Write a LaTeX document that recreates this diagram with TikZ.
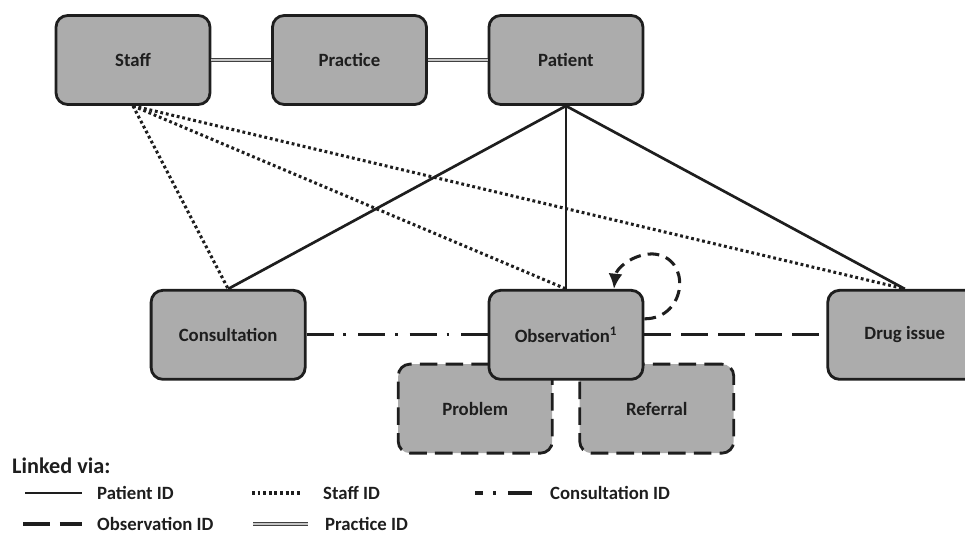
\documentclass[tikz,border=0pt]{standalone}
\usepackage{fontspec}
\setmainfont{Carlito}
\usetikzlibrary{positioning,calc,arrows.meta,backgrounds}

\definecolor{boxgray}{RGB}{172,172,172}
\definecolor{inkgray}{RGB}{30,30,30}

\tikzset{
  tablebox/.style={draw=inkgray, fill=boxgray, line width=2.4pt, rounded corners=10pt,
    minimum width=4.62cm, minimum height=2.67cm, inner sep=0pt,
    font=\fontsize{16}{18}\selectfont\bfseries, text=inkgray},
  subtable/.style={tablebox, dash pattern=on 15pt off 7pt},
  patid/.style={draw=inkgray, line width=2.3pt},
  staffid/.style={draw=inkgray, line width=2.6pt, dash pattern=on 2.4pt off 2.4pt},
  consid/.style={draw=inkgray, line width=2.6pt, dash pattern=on 23pt off 8.5pt on 2.5pt off 10pt},
  consleg/.style={consid, dash phase=16pt},
  obsid/.style={draw=inkgray, line width=2.6pt, dash pattern=on 23pt off 8.5pt},
  pracid/.style={draw=inkgray!85, line width=1.2pt, double=gray!45, double distance=1.6pt},
  legtext/.style={anchor=west, inner sep=0pt, font=\fontsize{16}{18}\selectfont\bfseries, text=inkgray},
}

\begin{document}
\begin{tikzpicture}[x=0.03cm, y=-0.03cm, node distance=1.79cm]
\useasboundingbox (0,0) rectangle (965,536);

% top row
\node[tablebox] (staff) at (133,60) {Staff};
\node[tablebox, right=of staff] (practice) {Practice};
\node[tablebox, right=of practice] (patient) {Patient};

% middle row
\node[tablebox, below=5.49cm of patient] (obs) {Observation\textsuperscript{1}};
\node[tablebox, left=5.43cm of obs] (cons) {Consultation};
\node[tablebox, right=5.46cm of obs] (drug) {Drug issue};

% tables hanging off observation
\begin{scope}[on background layer]
\node[subtable, below left=-0.54cm and 0.37cm of obs.south] (problem) {Problem};
\node[subtable, below right=-0.54cm and 0.37cm of obs.south] (referral) {Referral};
\end{scope}

% links
\draw[pracid] (staff) -- (practice);
\draw[pracid] (practice) -- (patient);

\draw[patid] (patient.south) -- (cons.north);
\draw[patid] (patient.south) -- (obs.north);
\draw[patid] (patient.south) -- (drug.north);

\draw[staffid] (staff.south) -- (cons.north);
\draw[staffid] (staff.south) -- (obs.north);
\draw[staffid] (staff.south) -- (drug.north);

\draw[consid] (cons) -- (obs);
\draw[obsid] (obs) -- (drug);

\draw[obsid, dash pattern=on 10pt off 6pt, -{Latex[length=13pt,width=12pt]}]
  ($(obs.east)+(0,-16)$) .. controls +(43,0) and +(40,2) .. ($(obs.north east)+(8,-35)$)
  .. controls +(-20,0) and +(2,-20) .. ($(obs.north)+(48,0)$);

% legend
\node[legtext, font=\fontsize{19}{22}\selectfont\bfseries] (linked) at (12,466) {Linked via:};
\foreach \sty/\xa/\xb/\xt/\y/\lab [count=\i] in
  {patid/25/82/97/493/Patient ID,
   staffid/252/302/323/493/Staff ID,
   consleg/475/532/550/493/Consultation ID,
   obsid/23/82/97/524/Observation ID,
   pracid/253/308/325/524/Practice ID}
{
  \coordinate (s\i) at (\xa,\y);
  \coordinate (e\i) at (\xb,\y);
  \node[legtext] (t\i) at (\xt,\y) {\lab};
  \draw[\sty] (s\i) -- (e\i);
}
\end{tikzpicture}
\end{document}
